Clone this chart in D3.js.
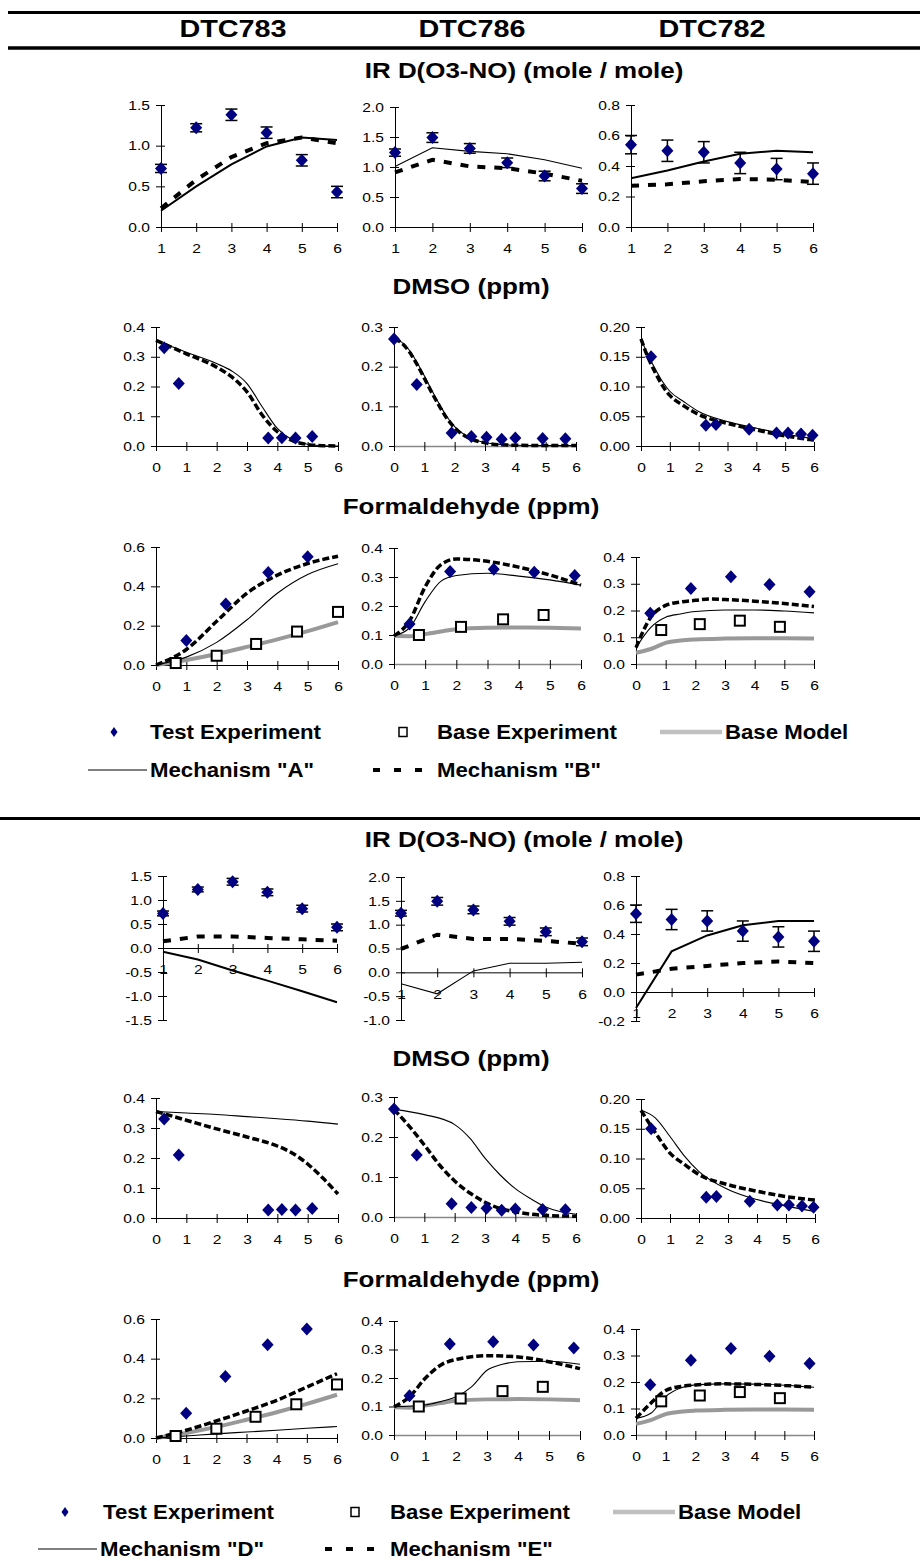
<!DOCTYPE html>
<html>
<head>
<meta charset="utf-8">
<script src="https://cdn.jsdelivr.net/npm/d3@7"></script>
<style>
  body { margin: 0; background: #fff; }
  svg text { font-family: "Liberation Sans", Arial, Helvetica, sans-serif; fill: #000; }
</style>
</head>
<body>
<div id="chart"></div>
<script>
// ---------------- data ----------------
var runs = ["DTC783", "DTC786", "DTC782"];
var rowTitles = ["IR D(O3-NO) (mole / mole)", "DMSO (ppm)", "Formaldehyde (ppm)"];

// IR D(O3-NO), one value per hour
var irHours = [1, 2, 3, 4, 5, 6];
var ir783Test = [0.72, 1.22, 1.38, 1.16, 0.82, 0.43];
var ir783Err = [0.05, 0.05, 0.07, 0.07, 0.07, 0.07];
var ir786Test = [1.24, 1.49, 1.31, 1.07, 0.85, 0.64];
var ir786Err = [0.06, 0.08, 0.08, 0.08, 0.08, 0.08];
var ir782Test = [0.54, 0.50, 0.49, 0.42, 0.38, 0.35];
var ir782Err = [0.06, 0.07, 0.07, 0.07, 0.07, 0.07];

var ir783MechA = [0.20, 0.50, 0.77, 0.99, 1.10, 1.07];
var ir783MechB = [0.23, 0.58, 0.86, 1.03, 1.10, 1.03];
var ir786MechA = [1.01, 1.32, 1.26, 1.22, 1.12, 0.98];
var ir786MechB = [0.91, 1.12, 1.01, 0.98, 0.89, 0.77];
var ir782MechA = [0.32, 0.37, 0.43, 0.48, 0.50, 0.49];
var ir782MechB = [0.27, 0.28, 0.30, 0.315, 0.31, 0.295];

var ir783MechD = [-0.08, -0.24, -0.47, -0.68, -0.90, -1.13];
var ir783MechE = [0.14, 0.24, 0.24, 0.21, 0.18, 0.15];
var ir786MechD = [-0.24, -0.45, 0.03, 0.19, 0.19, 0.21];
var ir786MechE = [0.49, 0.79, 0.70, 0.70, 0.66, 0.60];
var ir782MechD = [-0.11, 0.28, 0.39, 0.46, 0.49, 0.49];
var ir782MechE = [0.12, 0.16, 0.18, 0.20, 0.21, 0.20];

// DMSO (ppm), [hour, value]
var dmso783Test = [[0.27, 0.33], [0.75, 0.21], [3.7, 0.027], [4.15, 0.028], [4.6, 0.027], [5.15, 0.032]];
var dmso786Test = [[0, 0.27], [0.75, 0.155], [1.9, 0.033], [2.55, 0.024], [3.05, 0.022], [3.55, 0.017], [4.0, 0.02], [4.9, 0.019], [5.65, 0.018]];
var dmso782Test = [[0.35, 0.15], [2.25, 0.035], [2.6, 0.036], [3.75, 0.028], [4.7, 0.022], [5.1, 0.022], [5.55, 0.02], [5.95, 0.018]];

var dmso783MechA = [[0, 0.355], [1, 0.315], [2, 0.277], [2.5, 0.252], [3, 0.21], [3.5, 0.132], [4, 0.059], [4.5, 0.02], [5, 0.006], [5.5, 0.001], [6, 0]];
var dmso783MechB = [[0, 0.355], [1, 0.31], [2, 0.265], [2.5, 0.232], [3, 0.182], [3.5, 0.104], [4, 0.048], [4.5, 0.018], [5, 0.005], [5.5, 0.001], [6, 0]];
var dmso786MechA = [[0, 0.27], [0.25, 0.262], [0.5, 0.242], [0.75, 0.212], [1, 0.177], [1.25, 0.14], [1.5, 0.105], [1.75, 0.073], [2, 0.049], [2.5, 0.021], [3, 0.009], [3.5, 0.004], [4, 0.002], [5, 0.001], [6, 0.001]];
var dmso786MechB = [[0, 0.27], [0.25, 0.26], [0.5, 0.238], [0.75, 0.207], [1, 0.171], [1.25, 0.134], [1.5, 0.1], [1.75, 0.069], [2, 0.046], [2.5, 0.019], [3, 0.008], [3.5, 0.003], [4, 0.002], [5, 0.001], [6, 0.001]];
var dmso782MechA = [[0, 0.18], [0.25, 0.152], [0.5, 0.129], [0.75, 0.108], [1, 0.092], [1.5, 0.074], [2, 0.058], [3, 0.041], [4, 0.03], [5, 0.02], [6, 0.012]];
var dmso782MechB = [[0, 0.18], [0.25, 0.148], [0.5, 0.123], [0.75, 0.101], [1, 0.085], [1.5, 0.067], [2, 0.053], [3, 0.038], [4, 0.027], [5, 0.017], [6, 0.01]];

var dmso783MechD = [[0, 0.355], [1, 0.35], [2, 0.345], [3, 0.338], [4, 0.331], [5, 0.323], [6, 0.313]];
var dmso783MechE = [[0, 0.355], [1, 0.326], [2, 0.297], [3, 0.27], [4, 0.24], [4.5, 0.216], [5, 0.18], [5.5, 0.133], [6, 0.08]];
var dmso786MechD = [[0, 0.269], [1, 0.256], [2, 0.231], [2.5, 0.197], [3, 0.147], [3.5, 0.105], [4, 0.071], [4.5, 0.046], [5, 0.025], [5.5, 0.013], [6, 0.007]];
var dmso786MechE = [[0, 0.269], [0.5, 0.227], [1, 0.18], [1.5, 0.13], [2, 0.09], [2.5, 0.06], [3, 0.037], [3.5, 0.021], [4, 0.013], [5, 0.004], [6, 0.002]];
var dmso782MechD = [[0, 0.181], [0.5, 0.168], [1, 0.137], [1.5, 0.104], [2, 0.078], [3, 0.048], [4, 0.031], [5, 0.02], [6, 0.011]];
var dmso782MechE = [[0, 0.181], [0.5, 0.143], [1, 0.109], [1.5, 0.09], [2, 0.073], [3, 0.056], [4, 0.045], [5, 0.036], [6, 0.03]];

// Formaldehyde (ppm), [hour, value]
var form783Test = [[1.0, 0.125], [2.3, 0.31], [3.7, 0.47], [5.0, 0.55]];
var form783Base = [[0.65, 0.01], [2.0, 0.047], [3.3, 0.107], [4.65, 0.17], [6.0, 0.27]];
var form783BaseModel = [[0, 0], [1, 0.025], [2, 0.056], [3, 0.092], [4, 0.13], [5, 0.172], [6, 0.218]];
var form783MechA = [[0, 0], [1, 0.04], [2, 0.115], [3, 0.23], [4, 0.365], [5, 0.46], [6, 0.515]];
var form783MechB = [[0, 0], [1, 0.079], [2, 0.222], [3, 0.365], [4, 0.457], [5, 0.516], [6, 0.553]];
var form783MechD = [[0, 0], [1, 0.01], [2, 0.021], [3, 0.03], [4, 0.039], [5, 0.049], [6, 0.058]];
var form783MechE = [[0, 0], [1, 0.039], [2, 0.086], [3, 0.136], [4, 0.19], [5, 0.257], [6, 0.324]];

var form786Test = [[0.5, 0.138], [1.8, 0.319], [3.2, 0.327], [4.5, 0.316], [5.8, 0.305]];
var form786Base = [[0.8, 0.1], [2.15, 0.128], [3.5, 0.154], [4.8, 0.169]];
var form786BaseModel = [[0, 0.097], [0.5, 0.096], [1, 0.103], [1.5, 0.112], [2, 0.12], [3, 0.125], [4, 0.126], [5, 0.125], [6, 0.122]];
var form786MechA = [[0, 0.097], [0.5, 0.125], [1, 0.215], [1.5, 0.285], [2, 0.305], [3, 0.313], [4, 0.303], [5, 0.29], [6, 0.272]];
var form786MechB = [[0, 0.097], [0.5, 0.149], [1, 0.266], [1.5, 0.342], [2, 0.362], [3, 0.354], [4, 0.334], [5, 0.307], [6, 0.272]];
var form786MechD = [[0, 0.099], [1, 0.105], [1.5, 0.117], [2, 0.134], [2.5, 0.169], [3, 0.227], [3.5, 0.248], [4, 0.257], [5, 0.259], [6, 0.248]];
var form786MechE = [[0, 0.099], [0.5, 0.134], [1, 0.198], [1.5, 0.245], [2, 0.265], [3, 0.278], [4, 0.274], [5, 0.257], [6, 0.233]];

var form782Test = [[0.48, 0.19], [1.85, 0.282], [3.2, 0.326], [4.5, 0.297], [5.85, 0.27]];
var form782Base = [[0.85, 0.127], [2.15, 0.149], [3.5, 0.162], [4.85, 0.139]];
var form782BaseModel = [[0, 0.042], [0.5, 0.056], [1, 0.079], [1.5, 0.088], [2, 0.092], [3, 0.095], [4, 0.096], [5, 0.096], [6, 0.095]];
var form782MechA = [[0, 0.061], [0.5, 0.137], [1, 0.175], [1.5, 0.187], [2, 0.196], [3, 0.202], [4, 0.202], [5, 0.198], [6, 0.191]];
var form782MechB = [[0, 0.061], [0.5, 0.175], [1, 0.219], [1.5, 0.232], [2, 0.238], [2.5, 0.243], [3, 0.241], [4, 0.235], [5, 0.226], [6, 0.215]];
var form782MechD = [[0, 0.063], [0.5, 0.082], [1, 0.145], [1.5, 0.177], [2, 0.189], [3, 0.193], [4, 0.192], [5, 0.188], [6, 0.18]];
var form782MechE = [[0, 0.063], [0.5, 0.12], [1, 0.168], [1.5, 0.183], [2, 0.189], [3, 0.193], [4, 0.191], [5, 0.187], [6, 0.18]];

// tick values
var irTicks = [1, 2, 3, 4, 5, 6];
var hourTicks = [0, 1, 2, 3, 4, 5, 6];
var legendItems = ["Test Experiment", "Base Experiment", "Base Model"];

// ---------------- helpers ----------------
function pairs(vals) {
  return irHours.map(function(h, i) { return [h, vals[i]]; });
}

// per-panel specs: [row][run]
var specs = [
  [
    { xDom: [1, 6], xTicks: irTicks, test: pairs(ir783Test), err: ir783Err, fmt: ".1f", thick: true,
      yTop: [0, 1.5], yTopTicks: [0, 0.5, 1, 1.5], yBot: [-1.5, 1.5], yBotTicks: [-1.5, -1, -0.5, 0, 0.5, 1, 1.5],
      A: pairs(ir783MechA), B: pairs(ir783MechB), D: pairs(ir783MechD), E: pairs(ir783MechE) },
    { xDom: [1, 6], xTicks: irTicks, test: pairs(ir786Test), err: ir786Err, fmt: ".1f",
      yTop: [0, 2], yTopTicks: [0, 0.5, 1, 1.5, 2], yBot: [-1, 2], yBotTicks: [-1, -0.5, 0, 0.5, 1, 1.5, 2],
      A: pairs(ir786MechA), B: pairs(ir786MechB), D: pairs(ir786MechD), E: pairs(ir786MechE) },
    { xDom: [1, 6], xTicks: irTicks, test: pairs(ir782Test), err: ir782Err, fmt: ".1f", thick: true,
      yTop: [0, 0.8], yTopTicks: [0, 0.2, 0.4, 0.6, 0.8], yBot: [-0.2, 0.8], yBotTicks: [-0.2, 0, 0.2, 0.4, 0.6, 0.8],
      A: pairs(ir782MechA), B: pairs(ir782MechB), D: pairs(ir782MechD), E: pairs(ir782MechE) }
  ],
  [
    { xDom: [0, 6], xTicks: hourTicks, test: dmso783Test, fmt: ".1f", yTop: [0, 0.4], yTopTicks: [0, 0.1, 0.2, 0.3, 0.4],
      A: dmso783MechA, B: dmso783MechB, D: dmso783MechD, E: dmso783MechE },
    { xDom: [0, 6], xTicks: hourTicks, test: dmso786Test, fmt: ".1f", yTop: [0, 0.3], yTopTicks: [0, 0.1, 0.2, 0.3],
      A: dmso786MechA, B: dmso786MechB, D: dmso786MechD, E: dmso786MechE, greyAxis: true },
    { xDom: [0, 6], xTicks: hourTicks, test: dmso782Test, fmt: ".2f", yTop: [0, 0.2], yTopTicks: [0, 0.05, 0.1, 0.15, 0.2],
      A: dmso782MechA, B: dmso782MechB, D: dmso782MechD, E: dmso782MechE }
  ],
  [
    { xDom: [0, 6], xTicks: hourTicks, test: form783Test, base: form783Base, baseModel: form783BaseModel, fmt: ".1f",
      yTop: [0, 0.6], yTopTicks: [0, 0.2, 0.4, 0.6],
      A: form783MechA, B: form783MechB, D: form783MechD, E: form783MechE },
    { xDom: [0, 6], xTicks: hourTicks, test: form786Test, base: form786Base, baseModel: form786BaseModel, fmt: ".1f",
      yTop: [0, 0.4], yTopTicks: [0, 0.1, 0.2, 0.3, 0.4],
      A: form786MechA, B: form786MechB, D: form786MechD, E: form786MechE, greyAxis: true },
    { xDom: [0, 6], xTicks: hourTicks, test: form782Test, base: form782Base, baseModel: form782BaseModel, fmt: ".1f",
      yTop: [0, 0.4], yTopTicks: [0, 0.1, 0.2, 0.3, 0.4],
      A: form782MechA, B: form782MechB, D: form782MechD, E: form782MechE, greyAxis: true }
  ]
];

// pixel boxes for each section: [row][run] -> x range, y range (bottom, top)
var boxesTop = [
  [{ x: [161, 337], y: [227, 105] }, { x: [395, 582], y: [227, 107] }, { x: [631, 813], y: [227, 105] }],
  [{ x: [156, 338], y: [446, 327] }, { x: [394, 576], y: [446, 327] }, { x: [641, 814], y: [446, 327] }],
  [{ x: [156, 338], y: [665, 547] }, { x: [394, 581], y: [664, 548] }, { x: [636, 814], y: [664, 557] }]
];
var boxesBot = [
  [{ x: [163, 337], y: [1020, 876] }, { x: [401, 582], y: [1020, 877] }, { x: [636, 814], y: [1021, 876] }],
  [{ x: [156, 338], y: [1218, 1098] }, { x: [394, 576], y: [1217, 1097] }, { x: [641, 815], y: [1218, 1099] }],
  [{ x: [156, 337], y: [1438, 1319] }, { x: [394, 580], y: [1435, 1321] }, { x: [636, 814], y: [1435, 1329] }]
];

var W = 920, H = 1561;
var TICK_SX = 1.2;
var svg = d3.select("#chart").append("svg").attr("width", W).attr("height", H);
svg.append("rect").attr("width", W).attr("height", H).attr("fill", "#fff");

// the source figure is drawn a little wide, so text is stretched horizontally
function wideText(g, x, y, str, size, sx, anchor) {
  return g.append("text")
    .attr("transform", "translate(" + x + "," + y + ") scale(" + sx + ",1)")
    .attr("text-anchor", anchor || "middle")
    .attr("font-size", size)
    .attr("font-weight", "bold")
    .text(str);
}

var diamond = "M0,-6.5L6,0L0,6.5L-6,0Z";

function drawPanel(box, spec, yDom, yTicks, m1, m2, isIR) {
  var g = svg.append("g");
  var x = d3.scaleLinear().domain(spec.xDom).range(box.x);
  var y = d3.scaleLinear().domain(yDom).range(box.y);
  var fmt = function(d) { return d3.format(spec.fmt)(d).replace("\u2212", "-"); };

  var yAxis = g.append("g")
    .attr("transform", "translate(" + box.x[0] + ",0)")
    .call(d3.axisLeft(y).tickValues(yTicks).tickFormat(fmt)
      .tickSizeInner(5).tickSizeOuter(0).tickPadding(6));
  var xAxis = g.append("g")
    .attr("transform", "translate(0," + y(0) + ")")
    .call(d3.axisBottom(x).tickValues(spec.xTicks).tickFormat(d3.format("d"))
      .tickSizeInner(5).tickSizeOuter(0).tickPadding(12));

  [yAxis, xAxis].forEach(function(a) {
    a.attr("font-family", null).attr("font-size", 13);
    a.selectAll(".tick text").attr("fill", "#000");
  });
  yAxis.selectAll(".tick line").attr("x1", 4);
  yAxis.selectAll(".tick text").attr("x", -11 / TICK_SX).attr("transform", "scale(" + TICK_SX + ",1)");
  xAxis.selectAll(".tick line").attr("y1", -4);
  xAxis.selectAll(".tick text").attr("transform", "scale(" + TICK_SX + ",1)");
  if (spec.greyAxis) xAxis.select(".domain").attr("stroke", "#888").attr("stroke-width", 1.6);

  var line = d3.line()
    .x(function(d) { return x(d[0]); })
    .y(function(d) { return y(d[1]); })
    .curve(isIR ? d3.curveLinear : d3.curveMonotoneX);

  if (spec.baseModel) {
    g.append("path").datum(spec.baseModel).attr("d", line)
      .attr("fill", "none").attr("stroke", "#999").attr("stroke-width", 4);
  }
  g.append("path").datum(m1).attr("d", line)
    .attr("fill", "none").attr("stroke", "#000")
    .attr("stroke-width", isIR && spec.thick ? 2 : 1.1);
  g.append("path").datum(m2).attr("d", line)
    .attr("fill", "none").attr("stroke", "#000")
    .attr("stroke-width", isIR ? 4 : 3.5)
    .attr("stroke-dasharray", isIR ? "8,9" : "7,3");

  if (spec.base) {
    g.selectAll(".base").data(spec.base).enter().append("rect")
      .attr("x", function(d) { return x(d[0]) - 5; })
      .attr("y", function(d) { return y(d[1]) - 5; })
      .attr("width", 10).attr("height", 10)
      .attr("fill", "#fff").attr("stroke", "#000").attr("stroke-width", 2);
  }

  if (spec.err) {
    var eb = g.selectAll(".err").data(spec.test).enter().append("g");
    eb.append("line")
      .attr("x1", function(d) { return x(d[0]); }).attr("x2", function(d) { return x(d[0]); })
      .attr("y1", function(d, i) { return y(d[1] - spec.err[i]); })
      .attr("y2", function(d, i) { return y(d[1] + spec.err[i]); })
      .attr("stroke", "#000").attr("stroke-width", 1.5);
    [-1, 1].forEach(function(s) {
      eb.append("line")
        .attr("x1", function(d) { return x(d[0]) - 6; }).attr("x2", function(d) { return x(d[0]) + 6; })
        .attr("y1", function(d, i) { return y(d[1] + s * spec.err[i]); })
        .attr("y2", function(d, i) { return y(d[1] + s * spec.err[i]); })
        .attr("stroke", "#000").attr("stroke-width", 1.5);
    });
  }

  g.selectAll(".test").data(spec.test).enter().append("path")
    .attr("d", diamond)
    .attr("transform", function(d) { return "translate(" + x(d[0]) + "," + y(d[1]) + ")"; })
    .attr("fill", "#000080");
}

function drawLegend(lx, ly, mechNames) {
  var g = svg.append("g");
  var fs = 20, sx = 1.11;
  // row 1
  g.append("path").attr("d", "M0,-5L3.5,0L0,5L-3.5,0Z")
    .attr("transform", "translate(" + lx.diamond + "," + ly[0] + ")").attr("fill", "#000080");
  wideText(g, lx.t1, ly[0] + 7, legendItems[0], fs, sx, "start");
  g.append("rect").attr("x", lx.square - 4).attr("y", ly[0] - 4.5).attr("width", 8).attr("height", 9)
    .attr("fill", "#fff").attr("stroke", "#000").attr("stroke-width", 1.5);
  wideText(g, lx.t2, ly[0] + 7, legendItems[1], fs, sx, "start");
  g.append("line").attr("x1", lx.model[0]).attr("x2", lx.model[1]).attr("y1", ly[0]).attr("y2", ly[0])
    .attr("stroke", "#c0c0c0").attr("stroke-width", 4.5);
  wideText(g, lx.t3, ly[0] + 7, legendItems[2], fs, sx, "start");
  // row 2
  g.append("line").attr("x1", lx.solid[0]).attr("x2", lx.solid[1]).attr("y1", ly[1]).attr("y2", ly[1])
    .attr("stroke", "#000").attr("stroke-width", 1);
  wideText(g, lx.t4, ly[1] + 7, 'Mechanism "' + mechNames[0] + '"', fs, sx, "start");
  g.append("line").attr("x1", lx.dash[0]).attr("x2", lx.dash[1]).attr("y1", ly[1]).attr("y2", ly[1])
    .attr("stroke", "#000").attr("stroke-width", 4).attr("stroke-dasharray", "7,14");
  wideText(g, lx.t5, ly[1] + 7, 'Mechanism "' + mechNames[1] + '"', fs, sx, "start");
}

// ---------------- frame ----------------
svg.append("line").attr("x1", 8).attr("x2", W).attr("y1", 12.5).attr("y2", 12.5)
  .attr("stroke", "#000").attr("stroke-width", 3);
svg.append("line").attr("x1", 8).attr("x2", W).attr("y1", 48).attr("y2", 48)
  .attr("stroke", "#000").attr("stroke-width", 3.5);
svg.append("line").attr("x1", 0).attr("x2", W).attr("y1", 818.5).attr("y2", 818.5)
  .attr("stroke", "#000").attr("stroke-width", 3);

var headerX = [233, 472, 712];
runs.forEach(function(r, i) { wideText(svg, headerX[i], 37, r, 24, 1.2); });

var titleTop = [78, 294, 514], titleBot = [847, 1066, 1287], titleX = [524, 471, 471];
rowTitles.forEach(function(t, i) {
  wideText(svg, titleX[i], titleTop[i], t, 22, 1.18);
  wideText(svg, titleX[i], titleBot[i], t, 22, 1.18);
});

// ---------------- panels ----------------
specs.forEach(function(row, r) {
  row.forEach(function(spec, c) {
    var isIR = r === 0;
    drawPanel(boxesTop[r][c], spec, spec.yTop, spec.yTopTicks, spec.A, spec.B, isIR);
    drawPanel(boxesBot[r][c], spec, isIR ? spec.yBot : spec.yTop, isIR ? spec.yBotTicks : spec.yTopTicks,
      spec.D, spec.E, isIR);
  });
});

// ---------------- legends ----------------
drawLegend({ diamond: 114, t1: 150, square: 403, t2: 437, model: [660, 722], t3: 725,
  solid: [88, 147], t4: 150, dash: [373, 428], t5: 437 }, [732, 770], ["A", "B"]);
drawLegend({ diamond: 65, t1: 103, square: 355, t2: 390, model: [613, 675], t3: 678,
  solid: [38, 97], t4: 100, dash: [325, 376], t5: 390 }, [1512, 1549], ["D", "E"]);
</script>
</body>
</html>
